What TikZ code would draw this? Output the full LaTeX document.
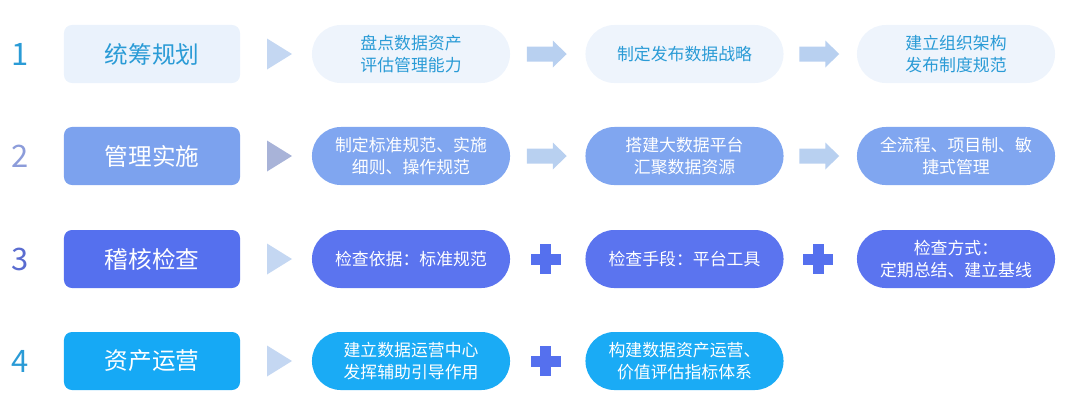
\documentclass[tikz,border=0pt]{standalone}
\usepackage{fontspec}
\setmainfont{Noto Sans CJK SC}
\usetikzlibrary{calc}

\definecolor{txtA}{HTML}{2A9BD6}
\definecolor{boxA}{HTML}{EAF2FC}
\definecolor{pillA}{HTML}{EEF4FC}
\definecolor{numB}{HTML}{8C9CDA}
\definecolor{boxB}{HTML}{7CA2EE}
\definecolor{pillB}{HTML}{80A6F0}
\definecolor{numC}{HTML}{5A6CD0}
\definecolor{boxC}{HTML}{5570EE}
\definecolor{pillC}{HTML}{5B74EF}
\definecolor{boxD}{HTML}{16A9F5}
\definecolor{pillD}{HTML}{1AABF5}
\definecolor{triA}{HTML}{C4D7F2}
\definecolor{triB}{HTML}{A8B3D8}
\definecolor{arrA}{HTML}{B8D0F0}

\tikzset{
  num/.style={font=\fontsize{22}{26}\selectfont, inner sep=0pt},
  stage/.style={rounded corners=0.2cm, minimum width=4.4cm, minimum height=1.45cm,
    inner sep=0pt, font=\fontsize{16.8}{20}\selectfont},
  pill/.style={rounded corners=0.72cm, minimum width=4.95cm, minimum height=1.45cm,
    inner sep=0pt, align=center, font=\fontsize{12}{15.6}\selectfont},
  playtri/.pic={\fill (-9,-15.5) -- (16,0) -- (-9,15.5) -- cycle;},
  blockarrow/.pic={\fill (-21,-7.5) -- (5,-7.5) -- (5,-13.5) -- (19,0) -- (5,13.5) -- (5,7.5) -- (-21,7.5) -- cycle;},
  plussign/.pic={\fill (-17,-5.5) rectangle (13,5.5); \fill (-7.5,-15) rectangle (3.5,15);}
}

\begin{document}
\begin{tikzpicture}[x=0.025cm, y=-0.025cm]
    \useasboundingbox (0,0) rectangle (1073,410);

    % 1 統筹規划
    \node[num, text=txtA] (n1) at (20,54) {1};
    \node[stage, fill=boxA, text=txtA] (s1) at (152,54) {统筹规划};
    \node[pill, fill=pillA, text=txtA] (p11) at (411,54) {盘点数据资产\\评估管理能力};
    \node[pill, fill=pillA, text=txtA] (p12) at (684.5,54) {制定发布数据战略};
    \node[pill, fill=pillA, text=txtA] (p13) at (956,54) {建立组织架构\\发布制度规范};
    \pic[fill=triA] at ($(s1.east)!0.5!(p11.west)$) {playtri};
    \pic[fill=arrA] at ($(p11.east)!0.5!(p12.west)$) {blockarrow};
    \pic[fill=arrA] at ($(p12.east)!0.5!(p13.west)$) {blockarrow};

    % 2 管理実施
    \node[num, text=numB] (n2) at (20,156) {2};
    \node[stage, fill=boxB, text=white] (s2) at (152,156) {管理实施};
    \node[pill, fill=pillB, text=white] (p21) at (411,156) {制定标准规范、实施\\细则、操作规范};
    \node[pill, fill=pillB, text=white] (p22) at (684.5,156) {搭建大数据平台\\汇聚数据资源};
    \node[pill, fill=pillB, text=white] (p23) at (956,156) {全流程、项目制、敏\\捷式管理};
    \pic[fill=triB] at ($(s2.east)!0.5!(p21.west)$) {playtri};
    \pic[fill=arrA] at ($(p21.east)!0.5!(p22.west)$) {blockarrow};
    \pic[fill=arrA] at ($(p22.east)!0.5!(p23.west)$) {blockarrow};

    % 3 稽核検査
    \node[num, text=numC] (n3) at (20,259) {3};
    \node[stage, fill=boxC, text=white] (s3) at (152,259) {稽核检查};
    \node[pill, fill=pillC, text=white] (p31) at (411,259) {检查依据：标准规范};
    \node[pill, fill=pillC, text=white] (p32) at (684.5,259) {检查手段：平台工具};
    \node[pill, fill=pillC, text=white] (p33) at (956,259) {检查方式：\\定期总结、建立基线};
    \pic[fill=triA] at ($(s3.east)!0.5!(p31.west)$) {playtri};
    \pic[fill=boxC] at ($(p31.east)!0.5!(p32.west)$) {plussign};
    \pic[fill=boxC] at ($(p32.east)!0.5!(p33.west)$) {plussign};

    % 4 資産運営
    \node[num, text=txtA] (n4) at (20,361) {4};
    \node[stage, fill=boxD, text=white] (s4) at (152,361) {资产运营};
    \node[pill, fill=pillD, text=white] (p41) at (411,361) {建立数据运营中心\\发挥辅助引导作用};
    \node[pill, fill=pillD, text=white] (p42) at (684.5,361) {构建数据资产运营、\\价值评估指标体系};
    \pic[fill=triA] at ($(s4.east)!0.5!(p41.west)$) {playtri};
    \pic[fill=boxC] at ($(p41.east)!0.5!(p42.west)$) {plussign};
\end{tikzpicture}
\end{document}
